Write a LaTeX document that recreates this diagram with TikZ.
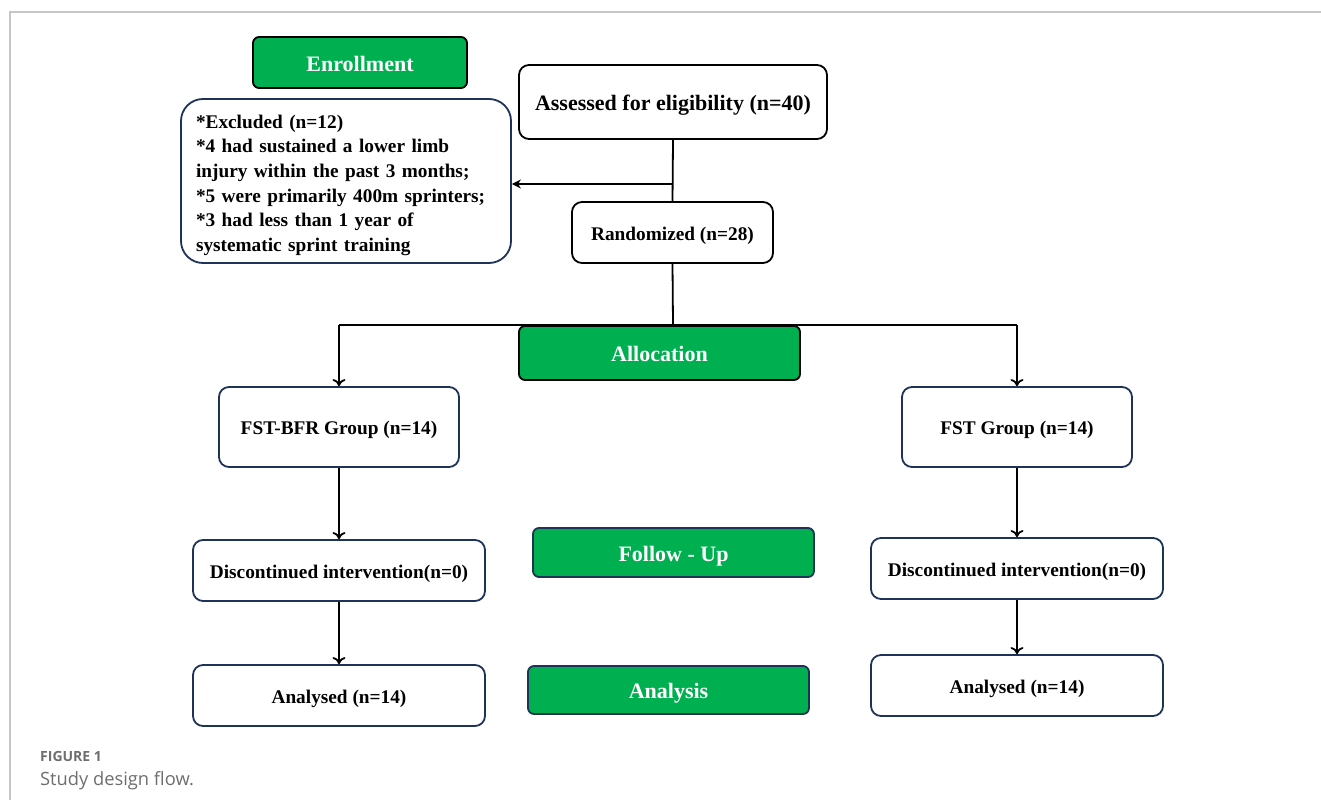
\documentclass[tikz,border=0pt]{standalone}
\usepackage{fontspec}
\setmainfont{Liberation Serif}
\newfontfamily\capfont{Open Sans}
\usepackage{tikz}
\usetikzlibrary{calc}
\usetikzlibrary{arrows.meta}
\usetikzlibrary{positioning}
\definecolor{boxgreen}{HTML}{00AF50}
\definecolor{navy}{HTML}{1F3358}
\definecolor{capgray}{HTML}{6E6E6E}
\tikzset{stage/.style={rectangle,rounded corners=6pt,draw=black,line width=1.8pt,fill=boxgreen,text=white,font=\fontsize{22}{26}\selectfont\bfseries,inner sep=0pt,text height=21pt,text depth=4pt}}
\tikzset{step box/.style={rectangle,rounded corners=10pt,draw=navy,line width=1.8pt,fill=white,font=\fontsize{19.3}{23}\selectfont\bfseries,inner sep=0pt,text height=19.5pt,text depth=4.2pt}}
\tikzset{flow/.style={line width=1.8pt,-{To[length=7pt,width=13pt]}}}

\begin{document}
\begin{tikzpicture}[x=1pt,y=-1pt]
\useasboundingbox (0,0) rectangle (1321,800);

% card frame
\draw[gray!45,line width=1.5pt] (10,800) -- (10,12) -- (1321,12);

% stages
\node[stage,minimum width=214pt,minimum height=51pt] (enroll) at (360,62.5) {Enrollment};
\node[stage,minimum width=281pt,minimum height=54pt] (alloc) at (659.5,353) {Allocation};
\node[stage,draw=navy,minimum width=281pt,minimum height=49pt] (follow) at (673.5,552.5) {Follow - Up};
\node[stage,draw=navy,minimum width=281pt,minimum height=48pt] (analysis) at (668.5,690) {Analysis};

% enrollment
\node[step box,draw=black,minimum width=308pt,minimum height=74pt,font=\fontsize{22}{26}\selectfont\bfseries,text height=22pt,text depth=4.8pt] (assess) at (673,102) {Assessed for eligibility (n=40)};
\node[rectangle,draw=navy,line width=1.8pt,fill=white,inner sep=0pt,minimum width=330pt,minimum height=164pt,rounded corners=22pt,align=left,text width=300pt,
  font=\fontsize{19.3}{24.7}\selectfont\bfseries] (excl) at (346,181)
  {\rule{0pt}{22pt}*Excluded (n=12)\\{}*4 had sustained a lower limb\\injury within the past 3 months;\\{}*5 were primarily 400m sprinters;\\{}*3 had less than 1 year of\\systematic sprint training};
\node[step box,draw=black,minimum width=201pt,minimum height=61pt] (rand) at (672.5,232.5) {Randomized (n=28)};

% groups
\node[step box,minimum width=240pt,minimum height=80pt] (bfr) at (339,427) {FST-BFR Group (n=14)};
\node[step box,minimum width=230pt,minimum height=80pt] (fst) at (1017,427) {FST Group (n=14)};
\node[step box,minimum width=292pt,minimum height=61pt] (discL) at (339,570.5) {Discontinued intervention(n=0)};
\node[step box,minimum width=292pt,minimum height=61pt] (discR) at (1017,568.5) {Discontinued intervention(n=0)};
\node[step box,minimum width=292pt,minimum height=61pt] (anaL) at (339,695.5) {Analysed (n=14)};
\node[step box,minimum width=292pt,minimum height=61pt] (anaR) at (1017,685.5) {Analysed (n=14)};

% connectors
\coordinate (split) at (673,184);
\coordinate (branch) at (673,325);
\draw[line width=1.8pt] (assess.south) -- (rand.north);
\draw[line width=1.8pt,-{Stealth[length=9pt,width=9pt]}] (split) -- (split -| excl.east);
\draw[line width=1.8pt] (rand.south) -- (branch);
\draw[line width=1.8pt] (branch -| bfr.north) -- (branch -| fst.north);
\draw[flow] (branch -| bfr.north) -- (bfr.north);
\draw[flow] (branch -| fst.north) -- (fst.north);
\draw[flow] (bfr.south) -- (discL.north);
\draw[flow] (fst.south) -- (discR.north);
\draw[flow] (discL.south) -- (anaL.north);
\draw[flow] (discR.south) -- (anaR.north);

% caption
\node[anchor=base west,inner sep=0pt,text=capgray,font=\capfont\fontsize{14}{16}\selectfont\bfseries] (figlabel) at (40,761) {FIGURE 1};
\node[anchor=base west,inner sep=0pt,text=capgray,font=\capfont\fontsize{18.3}{22}\selectfont] (figtitle) at (40,785) {Study design flow.};

\end{tikzpicture}
\end{document}
